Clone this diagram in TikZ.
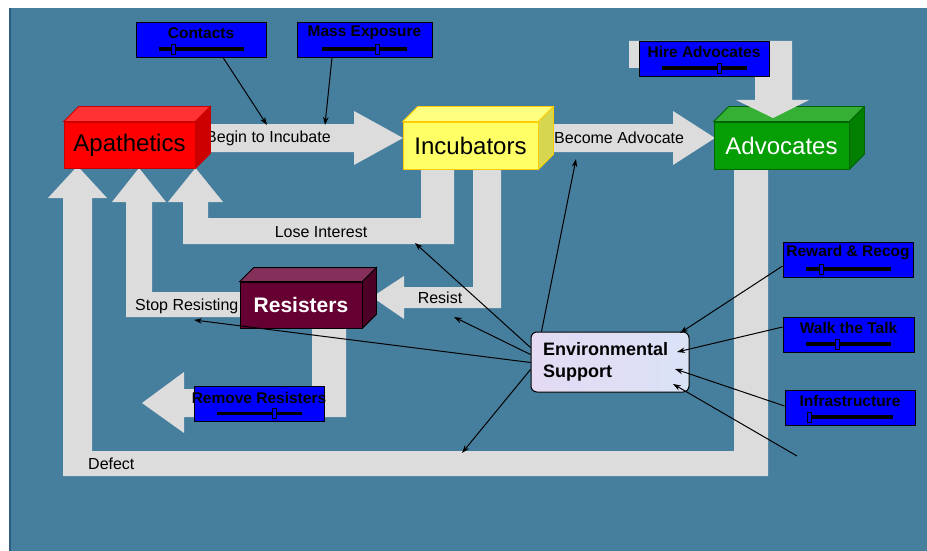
\documentclass[tikz,border=0pt]{standalone}
\usepackage{fontspec}
\setmainfont{Liberation Sans}
\usetikzlibrary{arrows.meta}
\definecolor{panel}{RGB}{70,127,158}
\definecolor{panelEdge}{RGB}{45,95,130}
\definecolor{blockgrey}{RGB}{220,220,220}
\definecolor{apaFront}{RGB}{255,0,0}
\definecolor{apaTop}{RGB}{255,51,51}
\definecolor{apaSide}{RGB}{204,0,0}
\definecolor{apaLine}{RGB}{200,0,0}
\definecolor{incFront}{RGB}{255,255,102}
\definecolor{incTop}{RGB}{255,255,128}
\definecolor{incSide}{RGB}{214,214,80}
\definecolor{incLine}{RGB}{255,204,0}
\definecolor{advFront}{RGB}{5,158,5}
\definecolor{advTop}{RGB}{53,176,53}
\definecolor{advSide}{RGB}{0,127,0}
\definecolor{advLine}{RGB}{0,100,0}
\definecolor{resFront}{RGB}{102,0,51}
\definecolor{resTop}{RGB}{133,48,90}
\definecolor{resSide}{RGB}{77,0,38}
\definecolor{envFill}{RGB}{218,226,246}
\definecolor{envFillB}{RGB}{228,218,244}
\tikzset{
  block/.style={fill=blockgrey, draw=none},
  lbl/.style={font=\fontsize{16}{19}\selectfont, inner sep=0pt, text=black},
  cubefront/.style={draw, line width=0.8pt, inner sep=0pt, font=\fontsize{24}{28}\selectfont},
  bluebox/.style={fill=blue, draw=black, line width=0.9pt, minimum height=35pt, inner sep=0pt},
  bluetext/.style={font=\bfseries\fontsize{15.5}{18}\selectfont, inner sep=0pt, text=black},
  sliderline/.style={line width=3.2pt, draw=black},
  thumb/.style={fill=blue, draw=black, line width=0.9pt, minimum width=4pt, minimum height=10pt, inner sep=0pt},
  thinarrow/.style={draw=black, line width=1pt, -{Stealth[length=8pt,width=5.5pt]}},
  envbox/.style={draw=black, line width=1pt, rounded corners=6pt, left color=envFillB, right color=envFill,
    minimum width=158pt, minimum height=60pt, text width=134pt, inner xsep=12pt, align=left,
    font=\bfseries\fontsize{18}{22}\selectfont}
}
% cube faces on a named front node: name, top, side, line, depth
\newcommand\cubefaces[5]{%
  \filldraw[fill=#2, draw=#4, line width=0.8pt] (#1.north west) -- ++(#5,-#5) -- ([shift={(#5,-#5)}]#1.north east) -- (#1.north east) -- cycle;
  \filldraw[fill=#3, draw=#4, line width=0.8pt] (#1.north east) -- ++(#5,-#5) -- ([shift={(#5,-#5)}]#1.south east) -- (#1.south east) -- cycle;
}
% slider box: name, x, y, width, label, thumb offset
\newcommand\sliderbox[6]{%
  \node[bluebox, minimum width=#4] (#1) at (#2,#3) {};
  \node[bluetext] (#1-t) at ([yshift=6.5pt]#1.center) {#5};
  \draw[sliderline] ([xshift=-42.5pt,yshift=-9.5pt]#1.center) -- ([xshift=42.5pt,yshift=-9.5pt]#1.center);
  \node[thumb] (#1-k) at ([xshift=#6,yshift=-9.5pt]#1.center) {};
}
\begin{document}
\begin{tikzpicture}[x=1pt,y=-1pt]
\useasboundingbox (0,0) rectangle (927,551);
\fill[white] (0,0) rectangle (927,551);
\fill[panel] (9,8) rectangle (927,551);
\draw[panelEdge, line width=1.5pt] (9.75,8) -- (9.75,551);

% block arrows
\fill[block] (197,124) -- (354,124) -- (354,111) -- (403,138) -- (354,165) -- (354,152) -- (197,152) -- cycle;
\fill[block] (545,124) -- (673,124) -- (673,111) -- (715,138) -- (673,165) -- (673,152) -- (545,152) -- cycle;
\fill[block] (421,165) -- (454,165) -- (454,244) -- (183,244) -- (183,202) -- (168,202) -- (195.5,168) -- (223,202) -- (208,202) -- (208,218) -- (421,218) -- cycle;
\fill[block] (473,165) -- (501,165) -- (501,308) -- (404,308) -- (404,319) -- (372,297) -- (404,276) -- (404,287) -- (473,287) -- cycle;
\fill[block] (250,292) -- (250,317) -- (126,317) -- (126,202) -- (112,202) -- (139,168) -- (166,202) -- (152,202) -- (152,292) -- cycle;
\fill[block] (734,165) -- (768,165) -- (768,476) -- (63,476) -- (63,198) -- (48,198) -- (77.5,166) -- (107,198) -- (92,198) -- (92,451) -- (734,451) -- cycle;
\fill[block] (312,320) -- (346,320) -- (346,417) -- (184,417) -- (184,433) -- (142,403) -- (184,372) -- (184,389) -- (312,389) -- cycle;

% arrow labels
\node[lbl, anchor=west] (lbegin) at (206,138) {Begin to Incubate};
\node[lbl, anchor=west] (lbecome) at (554,138) {Become Advocate};
\node[lbl] (llose) at (321,232) {Lose Interest};
\node[lbl] (lresist) at (440,298) {Resist};
\node[lbl, anchor=west] (lstop) at (135,306) {Stop Resisting};
\node[lbl, anchor=west] (ldefect) at (88,464) {Defect};

% cubes
\node[cubefront, fill=apaFront, draw=apaLine, minimum width=131pt, minimum height=46pt, text=black] (apa) at (129.5,145) {Apathetics};
\cubefaces{apa}{apaTop}{apaSide}{apaLine}{15}
\node[cubefront, fill=incFront, draw=incLine, minimum width=135pt, minimum height=47pt, text=black] (inc) at (470.5,145.5) {Incubators};
\cubefaces{inc}{incTop}{incSide}{incLine}{15}
\node[cubefront, fill=advFront, draw=advLine, minimum width=135pt, minimum height=47pt, text=white] (adv) at (781.5,145.5) {Advocates};
\cubefaces{adv}{advTop}{advSide}{advLine}{15}
\node[cubefront, fill=resFront, draw=black, minimum width=122pt, minimum height=46pt, text=white, font=\bfseries\fontsize{21}{25}\selectfont] (res) at (301,305) {Resisters};
\cubefaces{res}{resTop}{resSide}{black}{14}

% hire advocates elbow arrow
\fill[block] (629,41) -- (792,41) -- (792,100) -- (809,100) -- (773,118) -- (736,100) -- (755,100) -- (755,68) -- (629,68) -- cycle;

% slider boxes
\sliderbox{contacts}{201}{39.5}{130pt}{Contacts}{-28pt}
\sliderbox{mass}{364.5}{39.5}{135pt}{Mass Exposure}{12.5pt}
\sliderbox{hire}{704}{58.5}{130pt}{Hire Advocates}{15pt}
\sliderbox{reward}{848}{259.5}{130pt}{Reward \& Recog}{-27pt}
\sliderbox{walk}{848.5}{334.5}{131pt}{Walk the Talk}{-11.5pt}
\sliderbox{infra}{850}{407.5}{130pt}{Infrastructure}{-41pt}
\sliderbox{remove}{259}{404}{130pt}{Remove Resisters}{15pt}

% environmental support
\node[envbox] (env) at (610,362) {Environmental\\Support};

% targets of thin arrows
\coordinate (tbegin1) at (267,125);
\coordinate (tbegin2) at (325,125);
\coordinate (tbecome) at (576,159);
\coordinate (tlose) at (415,243);
\coordinate (tresist) at (454,317);
\coordinate (tstop) at (194,320);
\coordinate (tdefect) at (462,453);
\coordinate (envR1) at (680,333);
\coordinate (envR2) at (677,352);
\coordinate (envR3) at (675,369);
\coordinate (envR4) at (673,384);
\coordinate (free) at (797,456);

\draw[thinarrow] ([xshift=22pt]contacts.south) -- (tbegin1);
\draw[thinarrow] ([xshift=-32.5pt]mass.south) -- (tbegin2);
\draw[thinarrow] ([xshift=11pt]env.north west) -- (tbecome);
\draw[thinarrow] ([yshift=-16pt]env.north west) -- (tlose);
\draw[thinarrow] ([yshift=-23pt]env.north west) -- (tresist);
\draw[thinarrow] ([yshift=-31pt]env.north west) -- (tstop);
\draw[thinarrow] ([yshift=-38pt]env.north west) -- (tdefect);
\draw[thinarrow] ([yshift=-6.5pt]reward.west) -- (envR1);
\draw[thinarrow] ([yshift=7.5pt]walk.west) -- (envR2);
\draw[thinarrow] ([yshift=1.5pt]infra.west) -- (envR3);
\draw[thinarrow] (free) -- (envR4);
\end{tikzpicture}
\end{document}
